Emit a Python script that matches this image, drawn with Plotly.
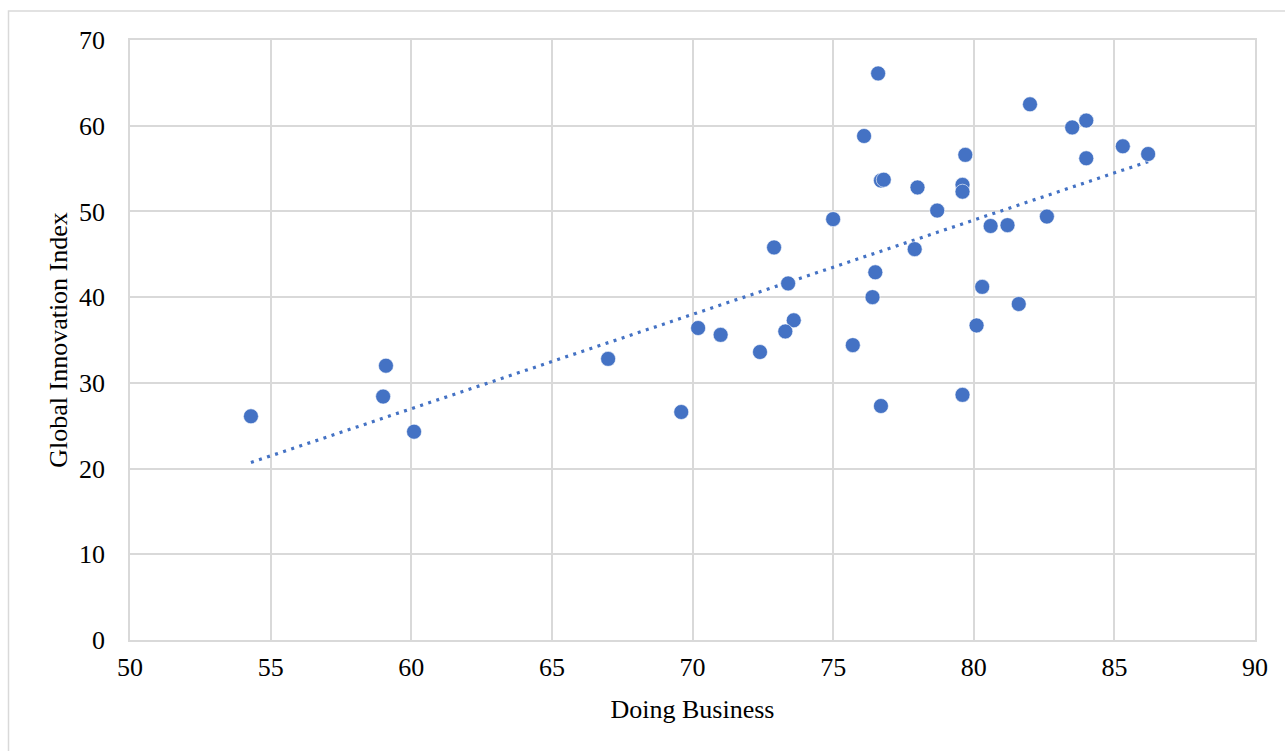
import numpy as np
import plotly.graph_objects as go

doing_business = [54.3, 59.1, 59.0, 60.1, 67.0, 69.6, 70.2, 71.0, 72.4, 72.9,
                  73.4, 73.6, 73.3, 75.0, 75.7, 76.1, 76.6, 76.7, 76.8, 76.5,
                  76.4, 76.7, 77.9, 78.0, 78.7, 79.6, 79.6, 79.7, 79.6, 80.1,
                  80.3, 80.6, 81.2, 81.6, 82.0, 82.6, 83.5, 84.0, 84.0, 85.3,
                  86.2]
global_innovation = [26.1, 32.0, 28.4, 24.3, 32.8, 26.6, 36.4, 35.6, 33.6, 45.8,
                     41.6, 37.3, 36.0, 49.1, 34.4, 58.8, 66.1, 53.6, 53.7, 42.9,
                     40.0, 27.3, 45.6, 52.8, 50.1, 53.1, 52.3, 56.6, 28.6, 36.7,
                     41.2, 48.3, 48.4, 39.2, 62.5, 49.4, 59.8, 60.6, 56.2, 57.6,
                     56.7]

x_ticks = [50, 55, 60, 65, 70, 75, 80, 85, 90]
y_ticks = [0, 10, 20, 30, 40, 50, 60, 70]

x_arr = np.array(doing_business)
y_arr = np.array(global_innovation)
slope, intercept = np.polyfit(x_arr, y_arr, 1)
trend_x = [x_arr.min(), x_arr.max()]
trend_y = [slope * v + intercept for v in trend_x]

BLUE = "#4472C4"
FONT = "Liberation Serif, Times New Roman, serif"

fig = go.Figure()
fig.add_trace(go.Scatter(
    x=trend_x, y=trend_y, mode="lines",
    line=dict(color=BLUE, width=3.2, dash="3px,5.5px"),
    hoverinfo="skip", showlegend=False,
))
fig.add_trace(go.Scatter(
    x=doing_business, y=global_innovation, mode="markers",
    marker=dict(color=BLUE, size=15, line=dict(color="white", width=0.6)),
    showlegend=False,
))

fig.update_layout(
    width=1285, height=751, autosize=False,
    margin=dict(l=130, r=30, t=40, b=111, pad=0),
    plot_bgcolor="white", paper_bgcolor="white",
    font=dict(family=FONT, size=26, color="black"),
    xaxis=dict(
        range=[50, 90], tickvals=x_ticks, showgrid=True, gridcolor="#D9D9D9",
        gridwidth=1.5, zeroline=False, showline=True, linecolor="#D9D9D9",
        linewidth=1.5, mirror=True, ticks="", ticklabelstandoff=3,
        title=dict(text="Doing Business", font=dict(size=26), standoff=19),
    ),
    yaxis=dict(
        range=[0, 70], tickvals=y_ticks, showgrid=True, gridcolor="#D9D9D9",
        gridwidth=1.5, zeroline=False, showline=True, linecolor="#D9D9D9",
        linewidth=1.5, mirror=True, ticks="", ticklabelstandoff=18,
        title=dict(text="Global Innovation Index", font=dict(size=26), standoff=4),
    ),
    shapes=[dict(
        type="rect", xref="paper", yref="paper",
        x0=(8.5 - 130) / 1125, x1=(1300 - 130) / 1125,
        y0=(640 - 770) / 600, y1=(640 - 11) / 600,
        line=dict(color="#D9D9D9", width=1.5), fillcolor="rgba(0,0,0,0)",
        layer="below",
    )],
)

fig.write_html("out.html", config={"displayModeBar": False},
               post_script="document.body.style.margin='0';")
